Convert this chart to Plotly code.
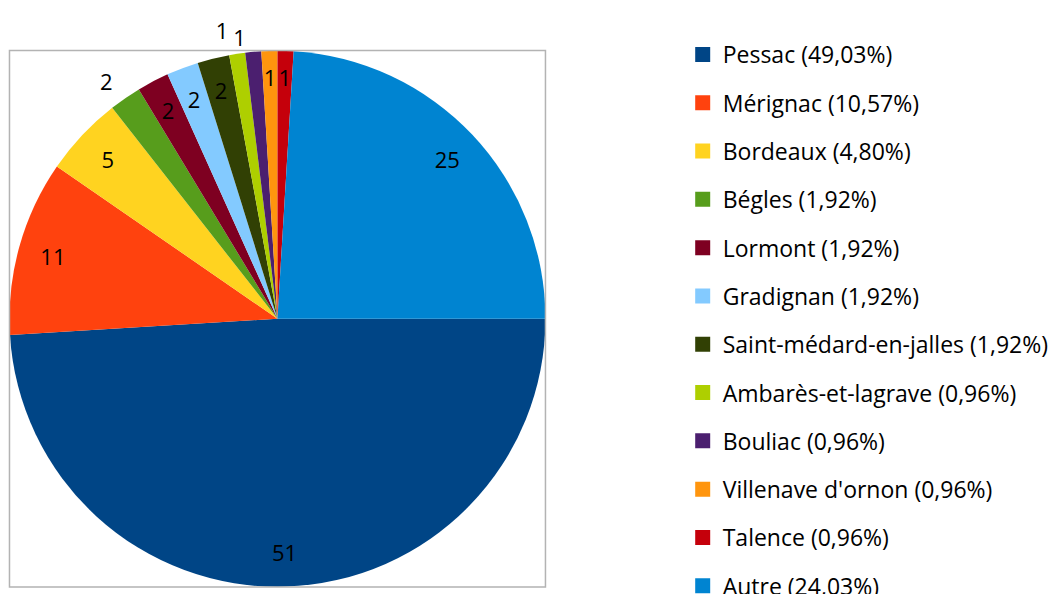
import plotly.graph_objects as go

labels = ["Pessac", "Mérignac", "Bordeaux", "Bégles", "Lormont", "Gradignan",
          "Saint-médard-en-jalles", "Ambarès-et-lagrave", "Bouliac",
          "Villenave d'ornon", "Talence", "Autre"]
values = [51, 11, 5, 2, 2, 2, 2, 1, 1, 1, 1, 25]
pct_labels = ["49,03%", "10,57%", "4,80%", "1,92%", "1,92%", "1,92%", "1,92%",
              "0,96%", "0,96%", "0,96%", "0,96%", "24,03%"]
colors = ["#004586", "#FF420E", "#FFD320", "#579D1C", "#7E0021", "#83CAFF",
          "#314004", "#AECF00", "#4B1F6F", "#FF950E", "#C5000B", "#0084D1"]
# where each data label goes: "rim" = inside near rim, "in" = inside a bit deeper,
# "out" / "out2" = outside (two groups so their labels don't push each other)
label_place = ["rim", "rim", "rim", "out", "in", "in", "in", "out", "out2", "in", "in", "rim"]

FONT = "'Open Sans', Calibri, sans-serif"
FS = 22
LFS = 23
W, H = 1054, 620          # figure is taller than the 594px window; the bottom is cut like the reference
cx, cy, R = 278.0, 318.75, 268.5
Rb = 250.0
Rout = 277.5

def dom(r):
    return dict(x=[(cx - r) / W, (cx + r) / W], y=[1 - (cy + r) / H, 1 - (cy - r) / H])

transparent = ["rgba(0,0,0,0)"] * len(values)

def label_pie(places, position, radius, hole):
    txt = [str(v) if p in places else "" for v, p in zip(values, label_place)]
    return go.Pie(
        labels=labels, values=values, sort=False, direction="clockwise", rotation=90,
        hole=hole, marker=dict(colors=transparent, line=dict(width=0)),
        text=txt, textinfo="text", textposition=position, insidetextorientation="horizontal",
        textfont=dict(family=FONT, size=FS, color="black"),
        showlegend=False, automargin=False, hoverinfo="skip", domain=dom(radius),
    )

fig = go.Figure()
# slices
fig.add_trace(go.Pie(
    labels=labels, values=values, sort=False, direction="clockwise", rotation=90,
    marker=dict(colors=colors, line=dict(width=0)),
    textinfo="none", showlegend=False, automargin=False,
    hoverinfo="label+value", domain=dom(R),
))
fig.add_trace(label_pie(("rim",), "inside", R, 0.74))
fig.add_trace(label_pie(("in",), "inside", Rb, 0.7))
fig.add_trace(label_pie(("out",), "outside", Rout, 0.74))
fig.add_trace(label_pie(("out2",), "outside", R, 0.74))

for lab, pct, col in zip(labels, pct_labels, colors):
    fig.add_trace(go.Scatter(
        x=[None], y=[None], mode="markers", name=f"{lab} ({pct})",
        legendgroup=lab,
        marker=dict(symbol="square", size=15, color=col),
    ))

x0, x1, yt, yb = 9.5, 546.5, 50.5, 587
fig.update_layout(
    width=W, height=H, margin=dict(l=0, r=0, t=0, b=0),
    paper_bgcolor="white", plot_bgcolor="white",
    font=dict(family=FONT, size=FS, color="black"),
    uniformtext=dict(minsize=FS, mode="show"),
    xaxis=dict(visible=False), yaxis=dict(visible=False),
    legend=dict(x=684 / W, y=1 - 33 / H, xanchor="left", yanchor="top",
                tracegroupgap=15.4, itemclick=False, maxheight=900,
                font=dict(family=FONT, size=LFS)),
    shapes=[dict(type="rect", xref="paper", yref="paper",
                 x0=x0 / W, x1=x1 / W, y0=1 - yb / H, y1=1 - yt / H,
                 line=dict(color="#B3B3B3", width=1.5))],
)
fig.write_html("out.html", config={"displayModeBar": False},
               post_script="document.body.style.margin='0';document.body.style.overflow='hidden';"
                           "document.documentElement.style.overflow='hidden';")
